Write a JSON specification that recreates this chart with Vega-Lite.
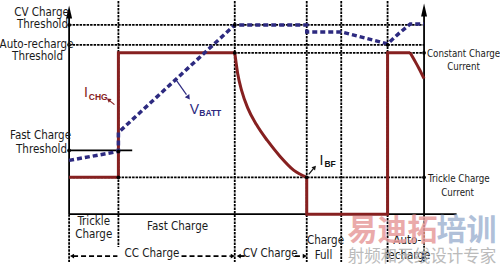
{
  "$schema": "https://vega.github.io/schema/vega-lite/v6.json",
  "width": 500,
  "height": 267,
  "autosize": {"type": "fit", "contains": "padding"},
  "padding": 0,
  "background": "white",
  "config": {"view": {"stroke": null}, "text": {"font": "DejaVu Sans Condensed, Liberation Sans", "fontSize": 11.5, "color": "#1a1a1a"}},
  "datasets": {
    "dotted": [
      {"x": 64, "x2": 424, "y": 24, "y2": 24},
      {"x": 64, "x2": 424, "y": 44, "y2": 44},
      {"x": 114, "x2": 424, "y": 52, "y2": 52},
      {"x": 64, "x2": 424, "y": 177, "y2": 177},
      {"x": 114, "x2": 114, "y": 0, "y2": 247},
      {"x": 232, "x2": 232, "y": 0, "y2": 262},
      {"x": 305, "x2": 305, "y": 0, "y2": 262},
      {"x": 340, "x2": 340, "y": 0, "y2": 262},
      {"x": 387, "x2": 387, "y": 0, "y2": 262},
      {"x": 64, "x2": 64, "y": 214, "y2": 262},
      {"x": 424, "x2": 424, "y": 214, "y2": 262}
    ],
    "solid": [
      {"x": 64, "x2": 64, "y": 12, "y2": 214},
      {"x": 424, "x2": 424, "y": 8, "y2": 214},
      {"x": 64, "x2": 457, "y": 214, "y2": 214},
      {"x": 64, "x2": 128, "y": 150, "y2": 150}
    ],
    "redLin": [
      {"s": "a", "o": 1, "x": 64, "y": 177},
      {"s": "a", "o": 2, "x": 114, "y": 177},
      {"s": "a", "o": 3, "x": 114, "y": 52},
      {"s": "a", "o": 4, "x": 232, "y": 52},
      {"s": "b", "o": 1, "x": 305, "y": 177},
      {"s": "b", "o": 2, "x": 305, "y": 214},
      {"s": "b", "o": 3, "x": 387, "y": 214},
      {"s": "b", "o": 4, "x": 387, "y": 52},
      {"s": "b", "o": 5, "x": 410, "y": 52}
    ],
    "redCurve": [
      {"s": "c", "x": 232, "y": 52},
      {"s": "c", "x": 235, "y": 73},
      {"s": "c", "x": 239, "y": 90},
      {"s": "c", "x": 245, "y": 107},
      {"s": "c", "x": 254, "y": 124},
      {"s": "c", "x": 265, "y": 140},
      {"s": "c", "x": 278, "y": 156},
      {"s": "c", "x": 292, "y": 170},
      {"s": "c", "x": 305, "y": 177},
      {"s": "d", "x": 410, "y": 52},
      {"s": "d", "x": 414, "y": 59},
      {"s": "d", "x": 419, "y": 68},
      {"s": "d", "x": 424, "y": 78}
    ],
    "blue": [
      {"o": 1, "x": 64, "y": 160},
      {"o": 2, "x": 114, "y": 151},
      {"o": 3, "x": 114, "y": 132},
      {"o": 4, "x": 232, "y": 24},
      {"o": 5, "x": 305, "y": 24},
      {"o": 6, "x": 305, "y": 31},
      {"o": 7, "x": 340, "y": 31},
      {"o": 8, "x": 387, "y": 43},
      {"o": 9, "x": 398, "y": 33},
      {"o": 10, "x": 410, "y": 23},
      {"o": 11, "x": 424, "y": 23}
    ],
    "dots": [
      {"x": 64, "y": 24}, {"x": 64, "y": 44}, {"x": 64, "y": 150},
      {"x": 424, "y": 52}, {"x": 424, "y": 177}, {"x": 232, "y": 24},
      {"x": 232, "y": 52}, {"x": 114, "y": 177}, {"x": 305, "y": 177},
      {"x": 387, "y": 44}, {"x": 114, "y": 151}
    ],
    "axisHeads": [{"x": 64, "y": 11}, {"x": 424, "y": 9}],
    "leftLabels": [
      {"x": 36, "y": 12, "t": "CV Charge"},
      {"x": 37, "y": 24, "t": "Threshold"},
      {"x": 31, "y": 44, "t": "Auto-recharge"},
      {"x": 32, "y": 56, "t": "Threshold"},
      {"x": 35, "y": 136, "t": "Fast Charge"},
      {"x": 36, "y": 150, "t": "Threshold"}
    ],
    "rightFirst": [
      {"x": 427, "y": 53, "t": "Constant Charge"},
      {"x": 428, "y": 179, "t": "Trickle Charge"}
    ],
    "rightSecond": [
      {"x": 464, "y": 66, "t": "Current"},
      {"x": 458, "y": 193, "t": "Current"}
    ],
    "phaseLabels": [
      {"x": 89, "y": 222, "t": "Trickle"},
      {"x": 89, "y": 235, "t": "Charge"},
      {"x": 174, "y": 227, "t": "Fast Charge"},
      {"x": 324, "y": 241, "t": "Charge"},
      {"x": 322, "y": 256, "t": "Full"},
      {"x": 407, "y": 241, "t": "Auto-"},
      {"x": 407, "y": 256, "t": "recharge"},
      {"x": 148, "y": 254, "t": "CC  Charge"},
      {"x": 268, "y": 254, "t": "CV Charge"}
    ],
    "spans": [
      {"x": 68, "x2": 113, "y": 256, "y2": 256},
      {"x": 178, "x2": 228, "y": 256, "y2": 256},
      {"x": 237, "x2": 243, "y": 256, "y2": 256},
      {"x": 293, "x2": 302, "y": 256, "y2": 256}
    ],
    "spanLeft": [{"x": 67, "y": 256}, {"x": 236, "y": 256}],
    "spanRight": [{"x": 230, "y": 256}, {"x": 303, "y": 256}],
    "pointers": [
      {"a": "ichg", "x": 110, "x2": 105, "y": 104, "y2": 100},
      {"a": "vbatt", "x": 173, "x2": 183, "y": 80, "y2": 94},
      {"a": "ibf", "x": 307, "x2": 312, "y": 174, "y2": 168}
    ],
    "headIchg": [{"x": 104, "y": 99}],
    "headVbatt": [{"x": 185, "y": 97}],
    "headIbf": [{"x": 313, "y": 167}],
    "mainSym": [
      {"a": "ichg", "x": 81, "y": 96, "t": "I"},
      {"a": "vbatt", "x": 191, "y": 113, "t": "V"},
      {"a": "ibf", "x": 320, "y": 165, "t": "I"}
    ],
    "subSym": [
      {"a": "ichg", "x": 84, "y": 99, "t": "CHG"},
      {"a": "vbatt", "x": 196, "y": 115, "t": "BATT"},
      {"a": "ibf", "x": 323, "y": 167, "t": "BF"}
    ],
    "wmPink": [{"x": 392, "y": 231, "t": "易迪拓"}],
    "wmBlue": [{"x": 467, "y": 231, "t": "培训"}],
    "wmGray": [{"x": 422, "y": 257, "t": "射频和天线设计专家"}]
  },
  "encoding": {
    "x": {"field": "x", "type": "quantitative", "scale": {"domain": [0, 500], "nice": false, "zero": false}, "axis": null},
    "y": {"field": "y", "type": "quantitative", "scale": {"domain": [0, 267], "reverse": true, "nice": false, "zero": false}, "axis": null}
  },
  "layer": [
    {
      "data": {"name": "dotted"},
      "mark": {"type": "rule", "color": "#000000", "strokeWidth": 1.8, "strokeDash": [2.5, 1]},
      "encoding": {"x2": {"field": "x2"}, "y2": {"field": "y2"}}
    },
    {
      "data": {"name": "solid"},
      "mark": {"type": "rule", "color": "#000000", "strokeWidth": 1.8},
      "encoding": {"x2": {"field": "x2"}, "y2": {"field": "y2"}}
    },
    {
      "data": {"name": "axisHeads"},
      "mark": {"type": "point", "shape": "M0,-1L0.46,1L-0.46,1Z", "size": 169, "filled": true, "color": "#000000", "opacity": 1}
    },
    {
      "data": {"name": "redLin"},
      "mark": {"type": "line", "color": "#862020", "strokeWidth": 3, "strokeJoin": "miter", "strokeCap": "butt"},
      "encoding": {"detail": {"field": "s"}, "order": {"field": "o", "type": "quantitative"}}
    },
    {
      "data": {"name": "redCurve"},
      "mark": {"type": "line", "color": "#862020", "strokeWidth": 3, "interpolate": "monotone"},
      "encoding": {"detail": {"field": "s"}}
    },
    {
      "data": {"name": "blue"},
      "mark": {"type": "line", "color": "#2d2a80", "strokeWidth": 3.5, "strokeDash": [5, 3], "strokeCap": "butt"},
      "encoding": {"order": {"field": "o", "type": "quantitative"}}
    },
    {
      "data": {"name": "dots"},
      "mark": {"type": "circle", "size": 14, "color": "#000000", "opacity": 1}
    },
    {
      "data": {"name": "leftLabels"},
      "mark": {"type": "text", "align": "center", "baseline": "middle"},
      "encoding": {"text": {"field": "t"}}
    },
    {
      "data": {"name": "rightFirst"},
      "mark": {"type": "text", "align": "left", "baseline": "middle", "fontSize": 9.7},
      "encoding": {"text": {"field": "t"}}
    },
    {
      "data": {"name": "rightSecond"},
      "mark": {"type": "text", "align": "center", "baseline": "middle", "fontSize": 9.7},
      "encoding": {"text": {"field": "t"}}
    },
    {
      "data": {"name": "phaseLabels"},
      "mark": {"type": "text", "align": "center", "baseline": "middle"},
      "encoding": {"text": {"field": "t"}}
    },
    {
      "data": {"name": "spans"},
      "mark": {"type": "rule", "color": "#000000", "strokeWidth": 1.8, "strokeDash": [5, 3]},
      "encoding": {"x2": {"field": "x2"}, "y2": {"field": "y2"}}
    },
    {
      "data": {"name": "spanLeft"},
      "mark": {"type": "point", "shape": "triangle-left", "size": 22, "filled": true, "color": "#000000", "opacity": 1}
    },
    {
      "data": {"name": "spanRight"},
      "mark": {"type": "point", "shape": "triangle-right", "size": 22, "filled": true, "color": "#000000", "opacity": 1}
    },
    {
      "data": {"name": "pointers"},
      "mark": {"type": "rule", "strokeWidth": 1.2},
      "encoding": {
        "x2": {"field": "x2"}, "y2": {"field": "y2"},
        "color": {"field": "a", "type": "nominal", "legend": null, "scale": {"domain": ["ichg", "vbatt", "ibf"], "range": ["#862020", "#2d2a80", "#111111"]}}
      }
    },
    {
      "data": {"name": "headIchg"},
      "mark": {"type": "point", "shape": "triangle-up", "size": 22, "filled": true, "color": "#862020", "opacity": 1, "angle": 306}
    },
    {
      "data": {"name": "headVbatt"},
      "mark": {"type": "point", "shape": "triangle-up", "size": 30, "filled": true, "color": "#2d2a80", "opacity": 1, "angle": 145}
    },
    {
      "data": {"name": "headIbf"},
      "mark": {"type": "point", "shape": "triangle-up", "size": 22, "filled": true, "color": "#111111", "opacity": 1, "angle": 41}
    },
    {
      "data": {"name": "mainSym"},
      "mark": {"type": "text", "align": "center", "baseline": "alphabetic", "fontSize": 14, "font": "Liberation Sans"},
      "encoding": {
        "text": {"field": "t"},
        "color": {"field": "a", "type": "nominal", "legend": null, "scale": {"domain": ["ichg", "vbatt", "ibf"], "range": ["#862020", "#2d2a80", "#111111"]}}
      }
    },
    {
      "data": {"name": "subSym"},
      "mark": {"type": "text", "align": "left", "baseline": "alphabetic", "fontSize": 8.5, "fontWeight": "bold", "font": "Liberation Sans"},
      "encoding": {
        "text": {"field": "t"},
        "color": {"field": "a", "type": "nominal", "legend": null, "scale": {"domain": ["ichg", "vbatt", "ibf"], "range": ["#862020", "#2d2a80", "#111111"]}}
      }
    },
    {
      "data": {"name": "wmPink"},
      "mark": {"type": "text", "font": "Noto Sans CJK SC", "fontSize": 30, "fontWeight": "bold", "color": "#e79c9c", "opacity": 0.85, "align": "center", "baseline": "middle"},
      "encoding": {"text": {"field": "t"}}
    },
    {
      "data": {"name": "wmBlue"},
      "mark": {"type": "text", "font": "Noto Sans CJK SC", "fontSize": 30, "fontWeight": "bold", "color": "#a3b6d3", "opacity": 0.85, "align": "center", "baseline": "middle"},
      "encoding": {"text": {"field": "t"}}
    },
    {
      "data": {"name": "wmGray"},
      "mark": {"type": "text", "font": "Noto Sans CJK SC", "fontSize": 16.5, "color": "#b4b4b4", "opacity": 0.9, "align": "center", "baseline": "middle"},
      "encoding": {"text": {"field": "t"}}
    }
  ]
}
